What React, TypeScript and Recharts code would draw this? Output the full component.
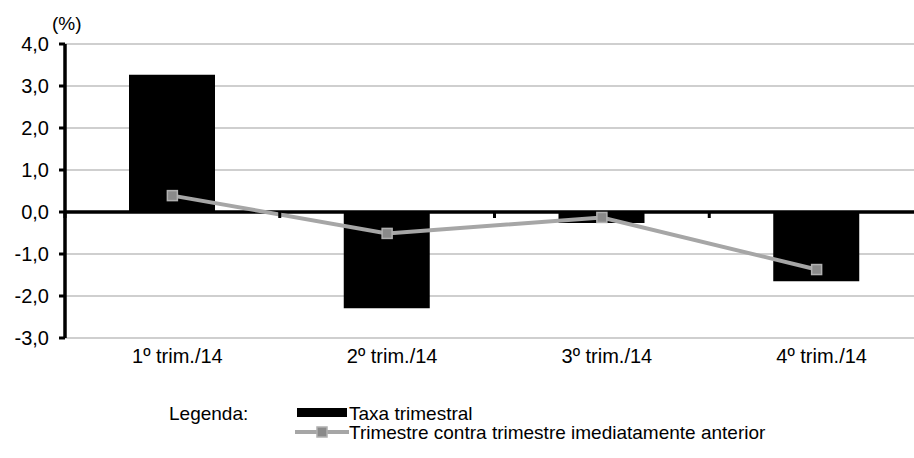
import React from 'react';
import { ComposedChart, Bar, Line, XAxis, YAxis, CartesianGrid, ReferenceLine, Legend } from 'recharts';

const categories = ['1º trim./14', '2º trim./14', '3º trim./14', '4º trim./14'];
const taxaTrimestral = [3.27, -2.29, -0.26, -1.65];
const contraAnterior = [0.39, -0.51, -0.13, -1.37];
const yTicks = [-3, -2, -1, 0, 1, 2, 3, 4];

const data = categories.map((name, i) => ({
  name,
  taxa: taxaTrimestral[i],
  contra: contraAnterior[i],
}));

const W = 930;
const H = 458;
const MARGIN = { top: 44, right: 6, left: 0, bottom: 38 };
const Y_AXIS_W = 65;
const X_AXIS_H = 30;
const LEGEND_H = 52;
const PLOT_W = W - MARGIN.left - MARGIN.right - Y_AXIS_W;
const PLOT_H = H - MARGIN.top - MARGIN.bottom - X_AXIS_H - LEGEND_H;
const Y_MIN = -3;
const Y_MAX = 4;
const ZERO_Y = MARGIN.top + (Y_MAX / (Y_MAX - Y_MIN)) * PLOT_H;
const BAND = PLOT_W / categories.length;

const FONT = '"Liberation Sans", Arial, sans-serif';

const fmt = (v: number) => v.toFixed(1).replace('.', ',');

// category label at the bottom + boundary tick on the zero line
const XTick = (props: any) => {
  const { x, y, payload, index } = props;
  return (
    <g>
      <line x1={x - BAND / 2} x2={x - BAND / 2} y1={ZERO_Y} y2={ZERO_Y + 6} stroke="#000" strokeWidth={3} />
      {index === categories.length - 1 && (
        <line x1={x + BAND / 2} x2={x + BAND / 2} y1={ZERO_Y} y2={ZERO_Y + 6} stroke="#000" strokeWidth={3} />
      )}
      <text x={x + 5} y={y + 17} textAnchor="middle" fill="#000" fontSize={20} fontFamily={FONT}>
        {payload.value}
      </text>
    </g>
  );
};

const SquareDot = (props: any) => {
  const { cx, cy } = props;
  if (cx == null || cy == null) return null;
  return <rect x={cx - 5} y={cy - 5} width={10} height={10} fill="#8a8a8a" stroke="#b0b0b0" strokeWidth={1.5} />;
};

const LegendBox = () => (
  <div style={{ position: 'relative', width: 914, height: LEGEND_H, fontFamily: FONT, fontSize: 19, color: '#000', lineHeight: 1 }}>
    <span style={{ position: 'absolute', left: 169, top: 4 }}>Legenda:</span>
    <svg style={{ position: 'absolute', left: 295, top: 0 }} width={56} height={LEGEND_H}>
      <rect x={2} y={8} width={50} height={9} fill="#000" />
      <line x1={0} x2={54} y1={32} y2={32} stroke="#a6a6a6" strokeWidth={4} />
      <rect x={22} y={27} width={10} height={10} fill="#8a8a8a" stroke="#b0b0b0" strokeWidth={1.5} />
    </svg>
    <span style={{ position: 'absolute', left: 349, top: 4 }}>Taxa trimestral</span>
    <span style={{ position: 'absolute', left: 349, top: 23 }}>Trimestre contra trimestre imediatamente anterior</span>
  </div>
);

export default function App() {
  return (
    <div style={{ position: 'fixed', left: 0, top: 0, width: 914, height: 458, overflow: 'hidden', background: '#fff' }}>
      <ComposedChart width={W} height={H} data={data} margin={MARGIN} barCategoryGap={0}>
        <CartesianGrid vertical={false} stroke="#bfbfbf" strokeWidth={1.5} />
        <XAxis
          dataKey="name"
          axisLine={false}
          tickLine={false}
          height={X_AXIS_H}
          tick={<XTick />}
          interval={0}
        />
        <YAxis
          width={Y_AXIS_W}
          domain={[Y_MIN, Y_MAX]}
          ticks={yTicks}
          tickFormatter={fmt}
          axisLine={{ stroke: '#000', strokeWidth: 3.5 }}
          tickLine={{ stroke: '#000', strokeWidth: 3 }}
          tickSize={6}
          tickMargin={10}
          tick={{ fill: '#000', fontSize: 20, fontFamily: FONT }}
          label={({ viewBox }: any) => (
            <text x={viewBox.x + viewBox.width - 13} y={viewBox.y - 14} fill="#000" fontSize={19} fontFamily={FONT}>
              (%)
            </text>
          )}
        />
        <Bar dataKey="taxa" name="Taxa trimestral" fill="#000" barSize={86} isAnimationActive={false} />
        <ReferenceLine y={0} stroke="#000" strokeWidth={3.5} />
        <Line
          dataKey="contra"
          name="Trimestre contra trimestre imediatamente anterior"
          stroke="#a6a6a6"
          strokeWidth={4}
          dot={<SquareDot />}
          activeDot={false}
          isAnimationActive={false}
        />
        <Legend verticalAlign="bottom" content={<LegendBox />} wrapperStyle={{ top: 400, left: 0, width: 914, height: LEGEND_H }} />
      </ComposedChart>
    </div>
  );
}
